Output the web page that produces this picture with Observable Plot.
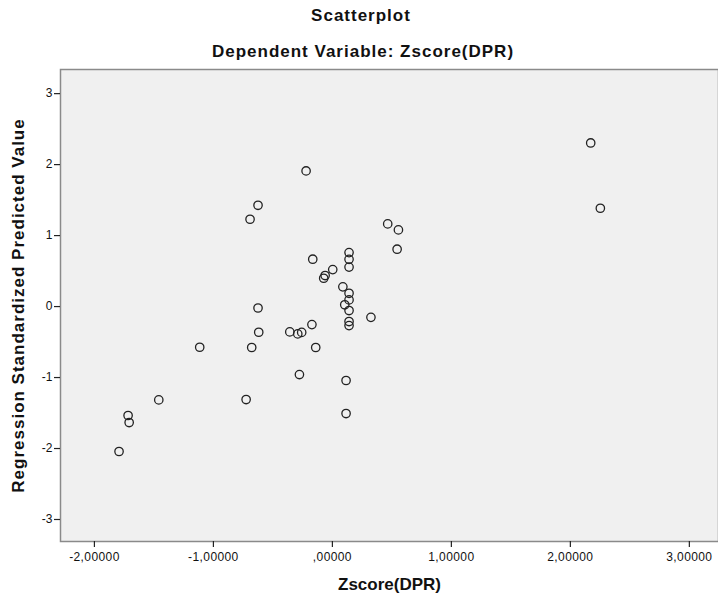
<!DOCTYPE html>
<html>
<head>
<meta charset="utf-8">
<script src="https://cdn.jsdelivr.net/npm/d3@7"></script>
<script src="https://cdn.jsdelivr.net/npm/@observablehq/plot@0.6"></script>
<style>
  html, body { margin: 0; padding: 0; background: #fff; }
  #wrap { position: relative; width: 718px; height: 603px; font-family: "Liberation Sans", Arial, sans-serif; color: #111; }
  .ttl { position: absolute; text-align: center; font-weight: bold; font-size: 17px; letter-spacing: 1px; white-space: nowrap; }
  #t1 { top: 0; height: 32px; line-height: 32px; left: 2px; width: 718px; }
  #t2 { top: 32px; height: 39px; line-height: 39px; left: 4px; width: 718px; }
  #chart { position: absolute; left: 0; top: 60px; }
</style>
</head>
<body>
<div id="wrap">
  <div class="ttl" id="t1">Scatterplot</div>
  <div class="ttl" id="t2">Dependent Variable: Zscore(DPR)</div>
  <div id="chart"></div>
</div>
<script>
const title = "Scatterplot";
const subtitle = "Dependent Variable: Zscore(DPR)";
const xLabel = "Zscore(DPR)";
const yLabel = "Regression Standardized Predicted Value";

const xTicks = [-2, -1, 0, 1, 2, 3];
const yTicks = [-3, -2, -1, 0, 1, 2, 3];

const zscoreDPR = [
  -0.221, -0.625, -0.692, 0.465, 0.555, 0.544, -0.165, 0.140, 0.140, 0.140,
   0.003, -0.061, -0.073, 0.088, 0.140, 0.140, 0.104, 0.140, 0.324, 0.140,
   0.140, -0.625, -0.619, -0.358, -0.291, -0.258, -0.172, -1.115, -0.678, -0.140,
  -0.277, 0.115, 0.115, -1.459, -0.725, -1.717, -1.708, -1.793, 2.171, 2.252
];
const predicted = [
   1.911, 1.427, 1.230, 1.165, 1.080, 0.808, 0.667, 0.760, 0.665, 0.556,
   0.521, 0.437, 0.399, 0.278, 0.187, 0.094, 0.025, -0.056, -0.152, -0.211,
  -0.268, -0.020, -0.362, -0.357, -0.385, -0.364, -0.254, -0.573, -0.577, -0.577,
  -0.958, -1.042, -1.507, -1.315, -1.310, -1.535, -1.634, -2.042, 2.305, 1.385
];

const points = zscoreDPR.map((x, i) => ({x, y: predicted[i]}));

const fmtX = d => {
  const s = Math.abs(d).toFixed(5).replace(".", ",").replace(/^0/, "");
  return (d < 0 ? "-" : "") + s;
};

const chart = Plot.plot({
  width: 718,
  height: 543,
  marginTop: 9,
  marginBottom: 62,
  marginLeft: 60,
  marginRight: 0,
  style: {fontFamily: "'Liberation Sans', Arial, sans-serif", fontSize: "12px", color: "#111", background: "transparent", overflow: "visible"},
  x: {domain: [-2.285, 3.245]},
  y: {domain: [-3.31, 3.34]},
  marks: [
    Plot.frame({fill: "#f0f0f0", stroke: "#8a8a8a", strokeWidth: 1.5}),
    Plot.axisX({ticks: xTicks, tickFormat: fmtX, tickSize: 6, tickPadding: 5, fontSize: 12, label: null, line: true, stroke: "#222", strokeWidth: 1.2}),
    Plot.axisY({ticks: yTicks, tickFormat: d => String(d), tickSize: 6, tickPadding: 2, fontSize: 12, label: null, line: true, stroke: "#222", strokeWidth: 1.2}),
    Plot.dot(points, {x: "x", y: "y", r: 4.2, stroke: "#222", strokeWidth: 1.3, fill: "none"}),
    Plot.text([xLabel], {text: d => d, frameAnchor: "bottom", lineAnchor: "middle", textAnchor: "middle", dy: 43, fontSize: 17, fontWeight: "bold", fill: "#111"}),
    Plot.text([yLabel], {text: d => d, frameAnchor: "left", textAnchor: "middle", lineAnchor: "middle", dx: -42, rotate: -90, fontSize: 17, fontWeight: "bold", fill: "#111"})
  ]
});
chart.querySelectorAll("text").forEach(t => {
  const s = t.textContent;
  if (s === yLabel) t.style.letterSpacing = "1px";
  else if (s.includes(",0000")) t.style.letterSpacing = "0.4px";
});
document.getElementById("chart").appendChild(chart);
</script>
</body>
</html>
